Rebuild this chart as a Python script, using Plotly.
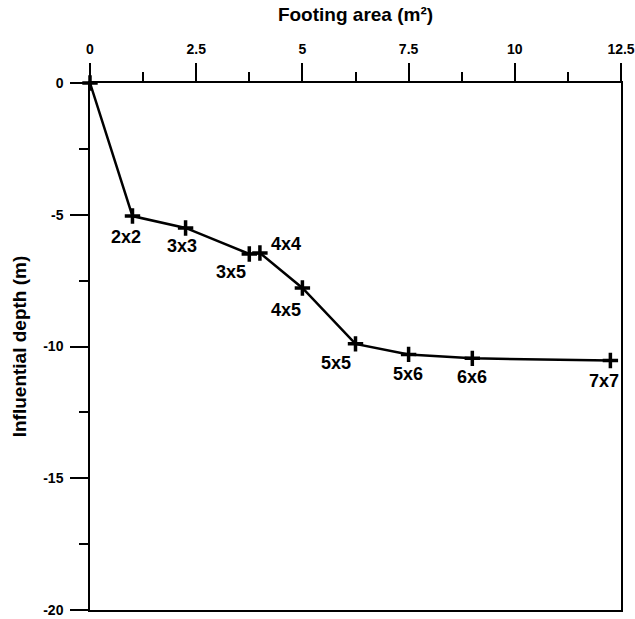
import plotly.graph_objects as go

# Data
footing_labels = ["", "2x2", "3x3", "3x5", "4x4", "4x5", "5x5", "5x6", "6x6", "7x7"]
footing_area = [0, 1.0, 2.25, 3.75, 4.0, 5.0, 6.25, 7.5, 9.0, 12.25]
influential_depth = [0, -5.05, -5.5, -6.49, -6.45, -7.78, -9.9, -10.3, -10.45, -10.53]

x_tickvals = [0, 2.5, 5, 7.5, 10, 12.5]
x_ticktext = ["0", "2.5", "5", "7.5", "10", "12.5"]
y_tickvals = [0, -5, -10, -15, -20]
y_ticktext = ["0", "-5", "-10", "-15", "-20"]

# label offsets in pixels (dx right, dy down) -- styling only
label_offsets = [(0, 0), (-6, 21), (-4, 18), (-18, 18), (26, -9), (-16, 22),
                 (-20, 19), (-1, 20), (0, 19), (-6, 21)]

FONT = "Liberation Sans, Arial, Helvetica, sans-serif"

fig = go.Figure()
fig.add_trace(go.Scatter(
    x=footing_area, y=influential_depth, mode="lines+markers",
    line=dict(color="black", width=2.5),
    marker=dict(symbol="cross-thin", size=11, line=dict(color="black", width=3.5), color="black"),
    cliponaxis=False, showlegend=False, hoverinfo="skip",
))

annotations = []
for lab, xv, yv, (dx, dy) in zip(footing_labels, footing_area, influential_depth, label_offsets):
    if not lab:
        continue
    annotations.append(dict(
        x=xv, y=yv, xref="x", yref="y", text="<b>%s</b>" % lab, showarrow=False,
        xshift=dx, yshift=-dy, xanchor="center", yanchor="middle",
        font=dict(family=FONT, size=18, color="black"),
    ))

fig.update_layout(
    width=635, height=619,
    margin=dict(l=90, r=14, t=83, b=9, autoexpand=False),
    paper_bgcolor="white", plot_bgcolor="white",
    font=dict(family=FONT, color="black"),
    annotations=annotations,
)

fig.update_xaxes(
    side="top", range=[0, 12.5], showgrid=False, zeroline=False, automargin=False,
    showline=True, linecolor="black", linewidth=1.5, mirror=True,
    ticks="outside", ticklen=18, tickwidth=1.5, tickcolor="black",
    tickvals=x_tickvals, ticktext=["<b>%s</b>" % t for t in x_ticktext],
    tickfont=dict(family=FONT, size=14, color="black"),
    ticklabelstandoff=4,
    minor=dict(ticks="outside", ticklen=9, tickwidth=1.5, tickcolor="black", dtick=1.25, tick0=0, showgrid=False),
    title=dict(text="<b>Footing area (m²)</b>", standoff=14,
               font=dict(family=FONT, size=19, color="black")),
)
fig.update_yaxes(
    range=[-20, 0], showgrid=False, zeroline=False, automargin=False,
    showline=True, linecolor="black", linewidth=1.5, mirror=True,
    ticks="outside", ticklen=18, tickwidth=1.5, tickcolor="black",
    tickvals=y_tickvals, ticktext=["<b>%s</b>" % t for t in y_ticktext],
    tickfont=dict(family=FONT, size=14, color="black"),
    ticklabelstandoff=4,
    minor=dict(ticks="outside", ticklen=9, tickwidth=1.5, tickcolor="black", dtick=2.5, tick0=0, showgrid=False),
    title=dict(text="<b>Influential depth (m)</b>", standoff=12,
               font=dict(family=FONT, size=19, color="black")),
)

fig.write_html("out.html", config={"displayModeBar": False},
               post_script="document.body.style.margin='0';document.body.style.overflow='hidden';")
